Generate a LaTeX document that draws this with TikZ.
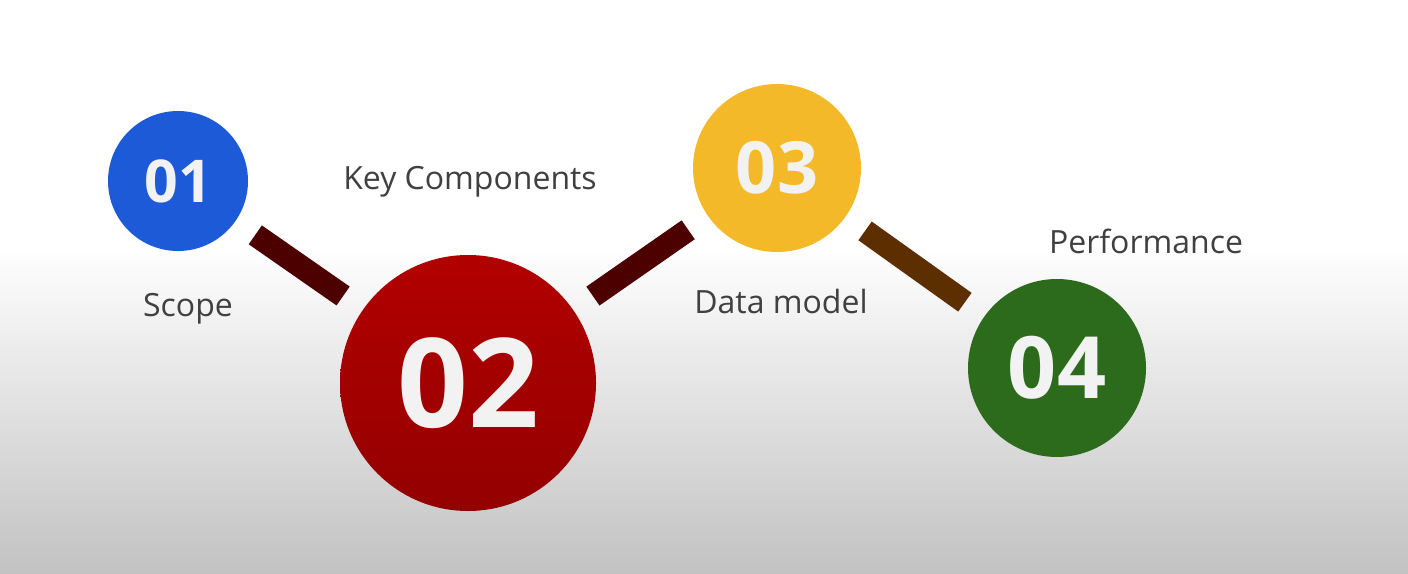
\documentclass[tikz,border=0pt]{standalone}
\usepackage{fontspec}
\setmainfont{Open Sans}
\definecolor{txtgrey}{HTML}{404040}
\definecolor{digitwhite}{HTML}{F2F2F2}
\definecolor{cblue}{HTML}{1D5AD8}
\definecolor{credtop}{HTML}{B20000}
\definecolor{credbot}{HTML}{940000}
\definecolor{cyellow}{HTML}{F4B928}
\definecolor{cgreen}{HTML}{2D6B1C}
\definecolor{barmaroon}{HTML}{4D0000}
\definecolor{barbrown}{HTML}{5C2E00}
\definecolor{bgbottom}{HTML}{C2C2C2}
\begin{document}
\begin{tikzpicture}[x=1bp,y=-1bp,
  disc/.style={circle, inner sep=0pt, text=digitwhite,
    font=\bfseries\fontsize{#1}{#1}\selectfont},
  bar/.style={line width=23bp, line cap=butt, shorten <=24bp, shorten >=24bp},
  caption/.style={anchor=base, text=txtgrey, inner sep=0pt,
    font=\fontsize{32bp}{32bp}\selectfont}]
  \useasboundingbox (0,0) rectangle (1408,574);
  % backdrop: white top, grey fade towards the bottom
  \fill[white] (0,0) rectangle (1408,246);
  \shade[top color=white, bottom color=bgbottom] (0,245) rectangle (1408,574);

  % numbered discs
  \node[disc=59bp, fill=cblue, minimum size=140bp] (c1) at (178,181) {01};
  \node[disc=124bp, top color=credtop, bottom color=credbot, minimum size=256bp] (c2) at (468,383) {02};
  \node[disc=72bp, fill=cyellow, minimum size=168bp] (c3) at (777,168) {03};
  \node[disc=86bp, fill=cgreen, minimum size=178bp] (c4) at (1057,368) {04};

  % linking bars
  \draw[bar, barmaroon] (c1) -- (c2);
  \draw[bar, barmaroon] (c2) -- (c3);
  \draw[bar, barbrown] (c3) -- (c4);

  % captions
  \node[caption] (t1) at (188,316) {Scope};
  \node[caption] (t2) at (470,190) {Key Components};
  \node[caption] (t3) at (781,313) {Data model};
  \node[caption] (t4) at (1146,253) {Performance};
\end{tikzpicture}
\end{document}
